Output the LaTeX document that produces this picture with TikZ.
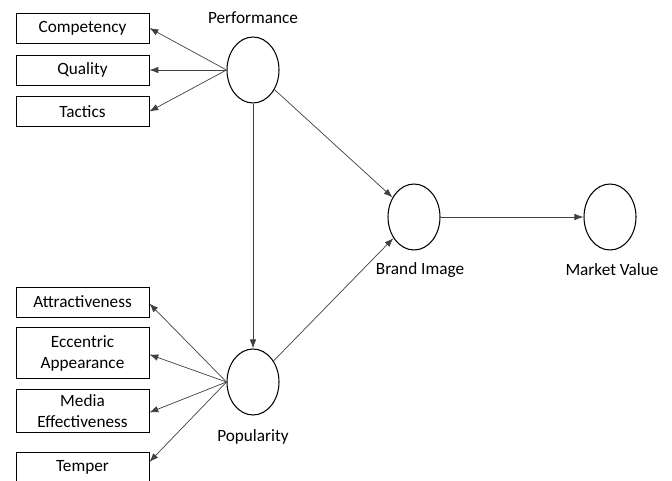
\documentclass[tikz,border=0pt]{standalone}
\usepackage{fontspec}
\setmainfont{Carlito}
\usetikzlibrary{positioning,shapes,arrows.meta}
\tikzstyle{indicator} = [rectangle, draw=black, thin, minimum width=2.66cm, minimum height=0.6cm, text centered, align=center, inner sep=1pt, font=\fontsize{9.8}{12}\selectfont]
\tikzstyle{latent} = [ellipse, draw=black, semithick, minimum width=1.04cm, minimum height=1.32cm, inner sep=0pt]
\tikzstyle{caption} = [font=\fontsize{9.8}{12}\selectfont]
\tikzstyle{connect} = [thin, black!75, ->, >={Latex[length=1.8mm,width=1.3mm]}]

\begin{document}
\begin{tikzpicture}[x=0.02cm, y=-0.02cm]
			\useasboundingbox (0,0) rectangle (672,480);
			\clip (0,0) rectangle (672,480);
			%-----------------------------------------------
			\node (perf) [latent] at (253,70) {};
			\node (pop) [latent] at (253,382) {};
			\node (brand) [latent] at (414,217) {};
			\node (market) [latent] at (610,217) {};
			\node (perflbl) [caption] at (253,18) {Performance};
			\node (poplbl) [caption] at (253,437) {Popularity};
			\node (brandlbl) [caption] at (420,270) {Brand Image};
			\node (marketlbl) [caption] at (612,270) {Market Value};
			%-----------------------------------------------
			\node (comp) [indicator] at (82.5,28) {Competency};
			\node (qual) [indicator] at (82.5,70) {Quality};
			\node (tact) [indicator] at (82.5,111.5) {Tactics};
			\node (attr) [indicator] at (82.5,302) {Attractiveness};
			\node (ecc) [indicator, minimum height=1.02cm] at (82.5,353) {Eccentric\\Appearance};
			\node (media) [indicator, minimum height=0.86cm] at (82.5,411) {Media\\Effectiveness};
			\node (temp) [indicator] at (82.5,467) {Temper};
			%-----------------------------------------------
			\foreach \ind in {comp,qual,tact}
				\draw [connect] (perf.west) -- (\ind.east);
			\foreach \ind in {attr,ecc,media}
				\draw [connect] (pop.west) -- ([yshift=-0.03cm]\ind.east);
			\draw [connect] (pop.west) -- ([yshift=0.1cm]temp.east);
			\draw [connect] (perf) -- (pop);
			\draw [connect] (perf) -- (brand);
			\draw [connect] (pop) -- (brand);
			\draw [connect] (brand) -- (market);
			\end{tikzpicture}
\end{document}
